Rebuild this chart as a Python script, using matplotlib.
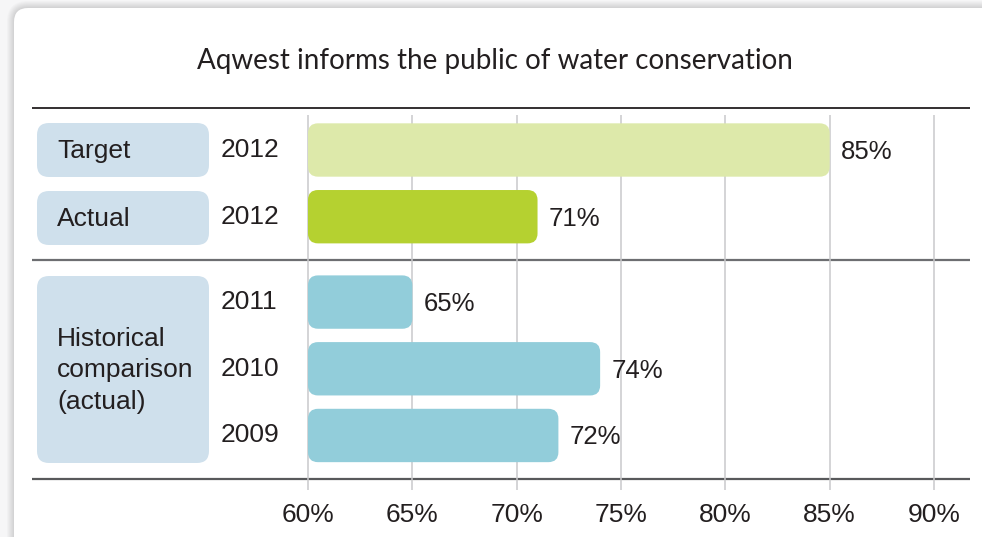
import matplotlib
matplotlib.use("Agg")
import matplotlib.pyplot as plt
from matplotlib.patches import FancyBboxPatch
from matplotlib.transforms import blended_transform_factory

# chart data
groups = ["Target", "Actual", "Historical\ncomparison\n(actual)"]
years = ["2012", "2012", "2011", "2010", "2009"]
values = [85, 71, 65, 74, 72]
bar_colors = ["#dde9aa", "#b5d130", "#92cdda", "#92cdda", "#92cdda"]
ticks = [60, 65, 70, 75, 80, 85, 90]
tick_labels = [f"{t}%" for t in ticks]
title = "Aqwest informs the public of water conservation"

plt.rcParams["font.family"] = ["Liberation Sans", "DejaVu Sans"]
TXT = "#231f20"

W, H = 982, 537
fig = plt.figure(figsize=(W / 100, H / 100), dpi=100, facecolor="#f6f6f7")

# background layer in pixel coordinates
bg = fig.add_axes([0, 0, 1, 1])
bg.set_xlim(0, W)
bg.set_ylim(H, 0)
bg.axis("off")

# card with soft shadow
for i in range(7, 0, -1):
    bg.add_patch(FancyBboxPatch((14 - i, 8 - i), 1200, 800,
                                boxstyle=f"round,pad=0,rounding_size={14 + i}",
                                fc="#000000", ec="none", alpha=0.018))
bg.add_patch(FancyBboxPatch((14, 8), 1200, 800, boxstyle="round,pad=0,rounding_size=14",
                            fc="white", ec="none"))

bg.text(495, 61, title, ha="center", va="center", fontsize=20, color=TXT,
        family=["Lato", "Liberation Sans", "DejaVu Sans"])

# section rules
bg.plot([32, 970], [108, 108], color="#231f20", lw=1.3, solid_capstyle="butt")
bg.plot([32, 970], [260, 260], color="#6d6e71", lw=1.6, solid_capstyle="butt")
bg.plot([32, 970], [479, 479], color="#58595b", lw=1.6, solid_capstyle="butt")

# group label boxes
box_spans = [(123, 177), (191, 245), (276, 463)]
for name, (y0, y1) in zip(groups, box_spans):
    bg.add_patch(FancyBboxPatch((37, y0), 172, y1 - y0,
                                boxstyle="round,pad=0,rounding_size=12",
                                fc="#cfe0ec", ec="none"))
    bg.text(57, (y0 + y1) / 2 + 1, name, ha="left", va="center", fontsize=19,
            color=TXT, linespacing=1.38)

# bar axes
sx = 20.867   # px per percentage point
pitch = 66.7  # px per row
ax = fig.add_axes([308 / W, (H - 479) / H, 662 / W, 371 / H])
ax.set_xlim(60, 60 + 662 / sx)
ax.set_ylim((479 - 150) / pitch, (108 - 150) / pitch)
ax.patch.set_alpha(0)
for s in ax.spines.values():
    s.set_visible(False)
ax.set_yticks([])
ax.set_xticks(ticks, tick_labels)
ax.tick_params(axis="x", length=0, pad=17, labelsize=19, labelcolor=TXT)

pos = [0, 1, 2.28, 3.28, 4.28]

ax.vlines(ticks, (490 - 150) / pitch, (115 - 150) / pitch, color="#c9c9cb",
          lw=1.1, zorder=0, clip_on=False)

bars = ax.barh(pos, [v - 60 for v in values], left=60, height=0.8)
for b, c, v, yr in zip(bars, bar_colors, values, years):
    b.set_visible(False)
    ax.add_patch(FancyBboxPatch((b.get_x(), b.get_y()), b.get_width(), b.get_height(),
                                boxstyle=f"round,pad=0,rounding_size={10 / sx}",
                                mutation_aspect=sx / pitch, fc=c, ec="none", zorder=2))
    yc = b.get_y() + b.get_height() / 2
    ax.text(v + 11 / sx, yc + 0.03, f"{v}%", ha="left", va="center",
            fontsize=18.5, color=TXT, zorder=3)
    ax.text(221, yc, yr, transform=blended_transform_factory(bg.transData, ax.transData),
            ha="left", va="center", fontsize=19, color=TXT)

fig.savefig("out.png", dpi=100, facecolor=fig.get_facecolor())
